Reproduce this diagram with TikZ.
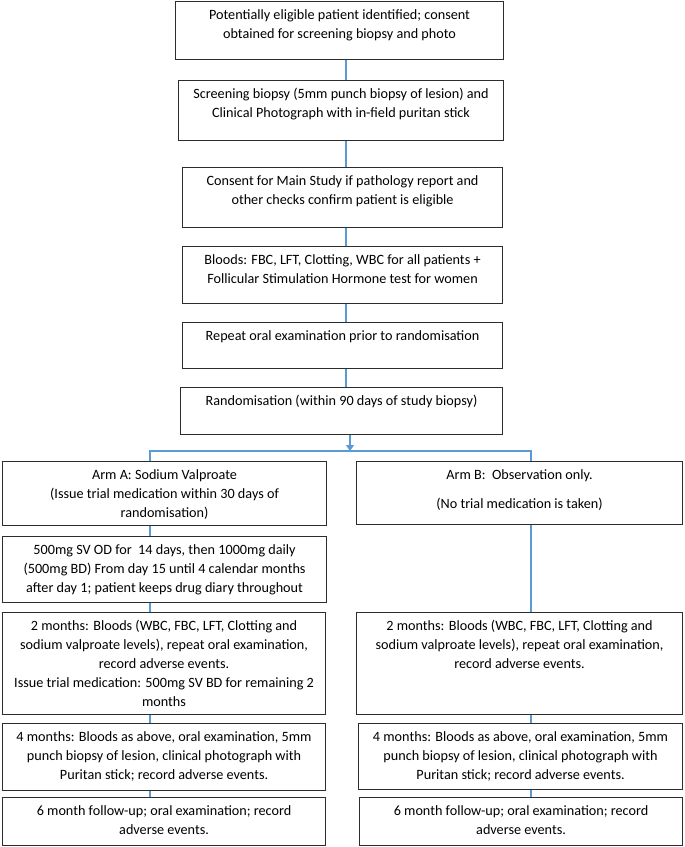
\documentclass[tikz,border=0pt]{standalone}
\usepackage{fontspec}
\setmainfont{Carlito}
\usepackage{tikz}
\usetikzlibrary{arrows.meta}
\definecolor{linkblue}{RGB}{91,155,213}
\definecolor{boxline}{RGB}{45,45,45}
\newcommand{\stagefont}{\fontsize{14.2pt}{19pt}\selectfont}
\tikzset{
  stage/.style={draw=boxline, line width=1.1pt, anchor=north west, inner sep=0pt, font=\stagefont},
  link/.style={draw=linkblue, line width=1.2pt},
}
\newcommand{\stagebox}[6]{%
  \node[stage] (#1) at (#2,#3) {\parbox[t][#5pt][t]{#4pt}{\centering\vspace*{4.5pt}\strut#6}};}

\begin{document}
\begin{tikzpicture}[x=1pt, y=-1pt]
            \useasboundingbox (0,0) rectangle (685,847);

            \stagebox{consent}{175}{1}{328}{58}{Potentially eligible patient identified; consent\\obtained for screening biopsy and photo}
            \stagebox{screening}{178}{80}{325}{60}{Screening biopsy (5mm punch biopsy of lesion) and\\Clinical Photograph with in-field puritan stick}
            \stagebox{mainconsent}{182}{167}{320}{60}{Consent for Main Study if pathology report and\\other checks confirm patient is eligible}
            \stagebox{bloods}{182}{246}{320}{57}{Bloods: FBC, LFT, Clotting, WBC for all patients +\\Follicular Stimulation Hormone test for women}
            \stagebox{oralexam}{182}{322}{320}{46}{Repeat oral examination prior to randomisation}
            \stagebox{random}{180}{387}{322}{47}{Randomisation (within 90 days of study biopsy)}

            \stagebox{armA}{2}{461}{324}{64}{Arm A: Sodium Valproate\\(Issue trial medication within 30 days of\\randomisation)}
            \stagebox{armB}{356}{461}{326}{63}{Arm B:\ \ Observation only.\\[10pt](No trial medication is taken)}
            \stagebox{armAdose}{2}{536}{324}{66}{500mg SV OD for\ \ 14 days, then 1000mg daily\\(500mg BD) From day 15 until 4 calendar months\\after day 1; patient keeps drug diary throughout}
            \stagebox{armAtwo}{2}{612}{323}{102}{2 months: Bloods (WBC, FBC, LFT, Clotting and\\sodium valproate levels), repeat oral examination,\\record adverse events.\\Issue trial medication: 500mg SV BD for remaining 2\\months}
            \stagebox{armBtwo}{356}{612}{326}{102}{2 months: Bloods (WBC, FBC, LFT, Clotting and\\sodium valproate levels), repeat oral examination,\\record adverse events.}
            \stagebox{armAfour}{2}{723}{323}{67}{4 months: Bloods as above, oral examination, 5mm\\punch biopsy of lesion, clinical photograph with\\Puritan stick; record adverse events.}
            \stagebox{armBfour}{358}{723}{324}{66}{4 months: Bloods as above, oral examination, 5mm\\punch biopsy of lesion, clinical photograph with\\Puritan stick; record adverse events.}
            \stagebox{armAsix}{2}{797}{323}{48}{6 month follow-up; oral examination; record\\adverse events.}
            \stagebox{armBsix}{359}{797}{323}{48}{6 month follow-up; oral examination; record\\adverse events.}

            \coordinate (midx) at (346,0);
            \coordinate (armAx) at (150,0);
            \coordinate (armBx) at (531,0);
            \coordinate (split) at (350,451);

            \draw[link] (consent.south -| midx) -- (screening.north -| midx);
            \draw[link] (screening.south -| midx) -- (mainconsent.north -| midx);
            \draw[link] (mainconsent.south -| midx) -- (bloods.north -| midx);
            \draw[link] (bloods.south -| midx) -- (oralexam.north -| midx);
            \draw[link] (oralexam.south -| midx) -- (random.north -| midx);
            \draw[link, -{Triangle[width=8pt,length=6pt]}] (random.south -| split) -- (split);

            \draw[link] (armA.north -| armAx) -- (split -| armAx) -- (split -| armBx) -- (armB.north -| armBx);
            \draw[link] (armA.south -| armAx) -- (armAdose.north -| armAx);
            \draw[link] (armAdose.south -| armAx) -- (armAtwo.north -| armAx);
            \draw[link] (armAtwo.south -| armAx) -- (armAfour.north -| armAx);
            \draw[link] (armAfour.south -| armAx) -- (armAsix.north -| armAx);
            \draw[link] (armB.south -| armBx) -- (armBtwo.north -| armBx);
            \draw[link] (armBtwo.south -| armBx) -- (armBfour.north -| armBx);
            \draw[link] (armBfour.south -| armBx) -- (armBsix.north -| armBx);
\end{tikzpicture}
\end{document}
